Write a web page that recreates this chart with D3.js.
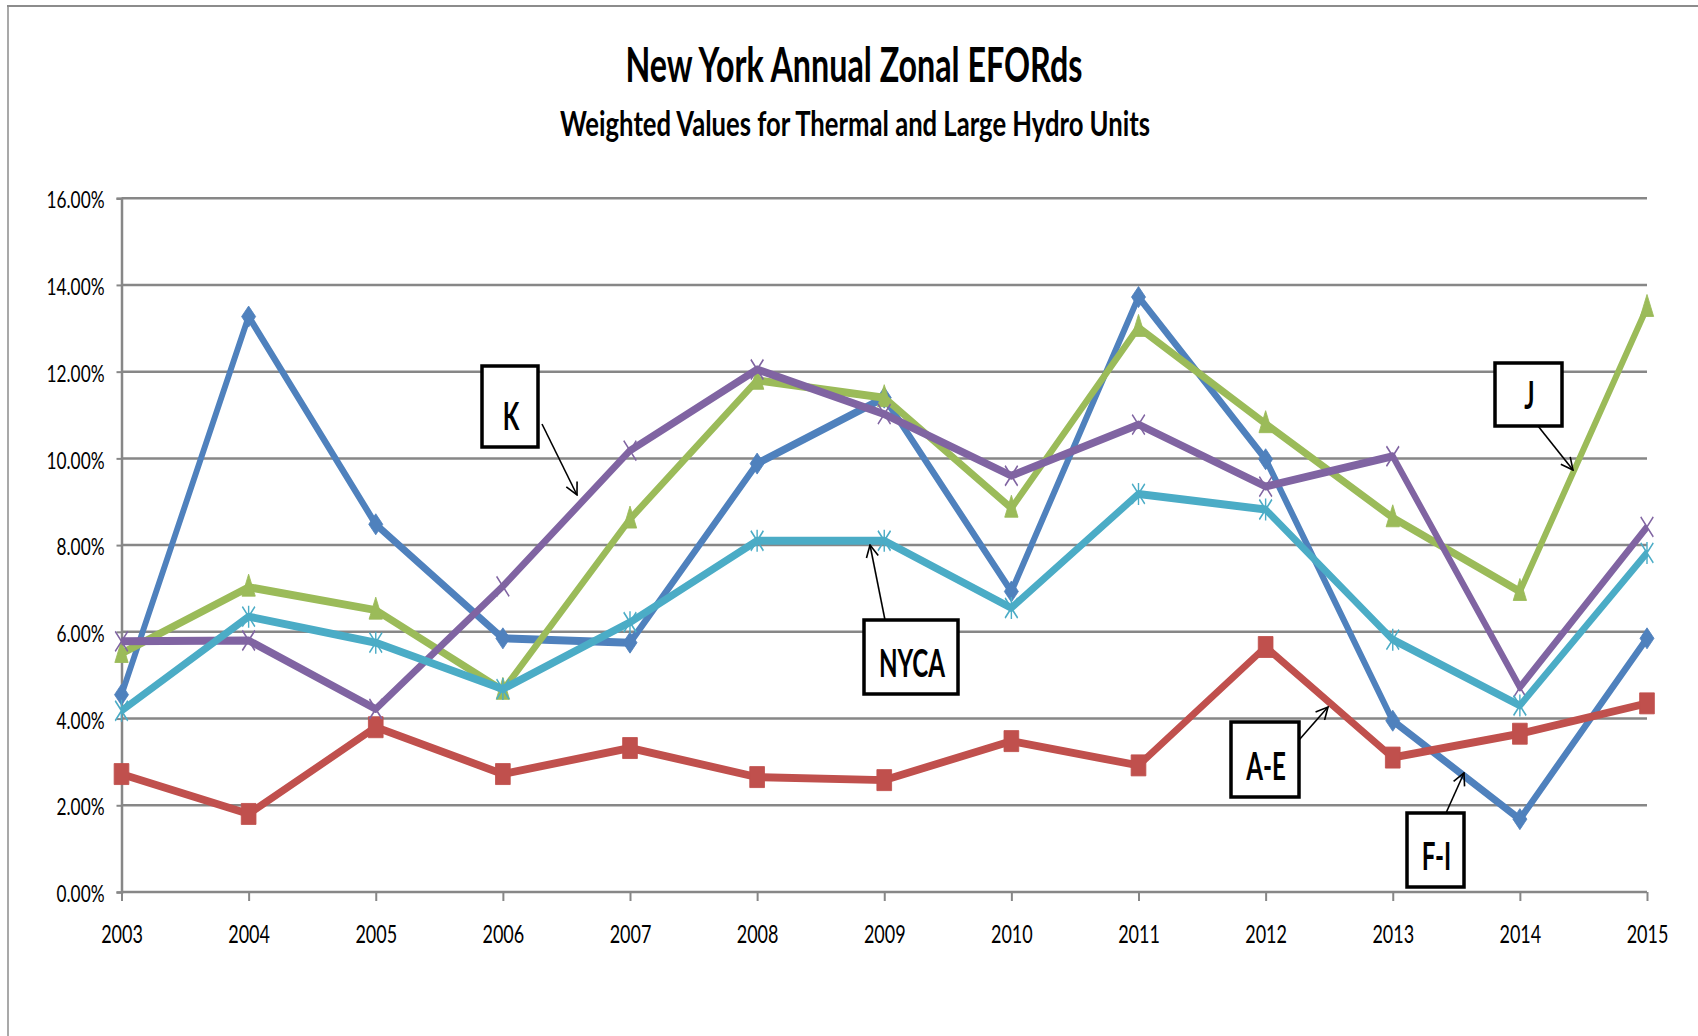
<!DOCTYPE html>
<html>
<head>
<meta charset="utf-8">
<script src="https://cdn.jsdelivr.net/npm/d3@7"></script>
<style>
    body { margin: 0; background: #fff; }
    text { font-family: Lato, "Open Sans", sans-serif; fill: #000; }
</style>
</head>
<body>
<div id="chart"></div>
<script>
// data (EFORd, %)
const years = [2003, 2004, 2005, 2006, 2007, 2008, 2009, 2010, 2011, 2012, 2013, 2014, 2015];
const zoneFI = [4.55, 13.27, 8.48, 5.85, 5.75, 9.88, 11.40, 6.93, 13.72, 9.98, 3.95, 1.68, 5.85];
const zoneAE = [2.72, 1.80, 3.80, 2.72, 3.32, 2.65, 2.58, 3.48, 2.92, 5.65, 3.10, 3.65, 4.35];
const zoneJ  = [5.50, 7.03, 6.50, 4.65, 8.60, 11.80, 11.40, 8.85, 13.02, 10.80, 8.63, 6.93, 13.48];
const zoneK  = [5.78, 5.80, 4.22, 7.05, 10.18, 12.05, 11.02, 9.60, 10.78, 9.35, 10.05, 4.72, 8.42];
const nyca   = [4.18, 6.35, 5.75, 4.68, 6.22, 8.10, 8.10, 6.55, 9.18, 8.82, 5.82, 4.30, 7.82];
const yTicks = [0, 2, 4, 6, 8, 10, 12, 14, 16];

const title = "New York Annual Zonal EFORds";
const subtitle = "Weighted Values for Thermal and Large Hydro Units";

let width = 1698;
let height = 1036;

let plotLeft = 121.5;
let plotRight = 1647;
let plotTop = 198.2;
let plotBottom = 892;

// the original picture is squeezed sideways, lines and markers too
let sx = 0.7;
let textSx = 0.72;

let svg = d3.select("#chart")
    .append("svg")
    .attr("width", width)
    .attr("height", height);

svg.append("rect")
    .attr("width", width)
    .attr("height", height)
    .attr("fill", "#fff");

// outer frame
svg.append("line")
    .attr("x1", 7).attr("x2", width).attr("y1", 6).attr("y2", 6)
    .attr("stroke", "#8c8c8c").attr("stroke-width", 2);
svg.append("line")
    .attr("x1", 8).attr("x2", 8).attr("y1", 6).attr("y2", height)
    .attr("stroke", "#8c8c8c").attr("stroke-width", 1.5);

// titles
svg.append("text")
    .attr("x", 854).attr("y", 82)
    .attr("text-anchor", "middle")
    .style("font-size", "48px").style("font-weight", "bold")
    .attr("textLength", 457).attr("lengthAdjust", "spacingAndGlyphs")
    .text(title);

svg.append("text")
    .attr("x", 855).attr("y", 136)
    .attr("text-anchor", "middle")
    .style("font-size", "35px").style("font-weight", "bold")
    .attr("textLength", 590).attr("lengthAdjust", "spacingAndGlyphs")
    .text(subtitle);

let x = d3.scalePoint().domain(years).range([plotLeft, plotRight]);
let xv = d3.scalePoint().domain(years).range([plotLeft / sx, plotRight / sx]);
let y = d3.scaleLinear().domain([0, 16]).range([plotBottom, plotTop]);

// gridlines
svg.append("g")
    .selectAll("line")
    .data(yTicks)
    .enter().append("line")
    .attr("x1", plotLeft).attr("x2", plotRight)
    .attr("y1", d => y(d)).attr("y2", d => y(d))
    .attr("stroke", "#878787").attr("stroke-width", 2.5);

// y axis
let yAxis = svg.append("g")
    .attr("transform", `translate(${plotLeft}, 0)`)
    .call(d3.axisLeft(y).tickValues(yTicks).tickSize(5).tickFormat(d => d3.format(".2f")(d) + "%"));
yAxis.select(".domain").attr("stroke", "#878787").attr("stroke-width", 2.5);
yAxis.selectAll(".tick line").attr("stroke", "#878787").attr("stroke-width", 2);
yAxis.selectAll(".tick text")
    .attr("x", null).attr("dy", "0.36em")
    .attr("transform", `translate(-17, 1) scale(${textSx}, 1)`)
    .attr("text-anchor", "end")
    .style("font-size", "24px").style("font-family", "Lato, sans-serif").attr("fill", "#000");

// x axis
let xAxis = svg.append("g")
    .attr("transform", `translate(0, ${plotBottom})`)
    .call(d3.axisBottom(x).tickSize(9));
xAxis.select(".domain").remove();
xAxis.selectAll(".tick line").attr("stroke", "#878787").attr("stroke-width", 2);
xAxis.selectAll(".tick text")
    .attr("y", 0).attr("dy", 0)
    .attr("transform", `translate(0, 51) scale(${textSx}, 1)`)
    .attr("text-anchor", "middle")
    .style("font-size", "25px").style("font-family", "Lato, sans-serif").attr("fill", "#000");

// series
const series = [
    { values: zoneFI, color: "#4F81BD", marker: "M0,-10.5L10,0L0,10.5L-10,0Z", filled: true },
    { values: zoneAE, color: "#C0504D", marker: "M-10.5,-10.5h21v21h-21Z", filled: true },
    { values: zoneJ,  color: "#9BBB59", marker: "M0,-13L9.5,9L-9.5,9Z", filled: true },
    { values: zoneK,  color: "#8064A2", marker: "M-9,-10L9,10M-9,10L9,-10", filled: false },
    { values: nyca,   color: "#4BACC6", marker: "M-9,-10L9,10M-9,10L9,-10M0,-11V11", filled: false }
];

let plot = svg.append("g")
    .attr("transform", `scale(${sx}, 1)`);

let line = d3.line()
    .x(function(d, i) { return xv(years[i]); })
    .y(function(d) { return y(d); });

series.forEach(function(s) {
    let g = plot.append("g");

    g.append("path")
        .datum(s.values)
        .attr("fill", "none")
        .attr("stroke", s.color)
        .attr("stroke-width", 8)
        .attr("stroke-linejoin", "round")
        .attr("d", line);

    g.selectAll(".mk")
        .data(s.values)
        .enter().append("path")
        .attr("transform", function(d, i) { return `translate(${xv(years[i])}, ${y(d)})`; })
        .attr("d", s.marker)
        .attr("fill", s.filled ? s.color : "none")
        .attr("stroke", s.color)
        .attr("stroke-width", s.filled ? 1 : 2);
});

// callout boxes with arrows
svg.append("defs").append("marker")
    .attr("id", "arr")
    .attr("viewBox", "0 0 14 14")
    .attr("refX", 13).attr("refY", 7)
    .attr("markerWidth", 14).attr("markerHeight", 14)
    .attr("markerUnits", "userSpaceOnUse")
    .attr("orient", "auto")
    .append("path")
    .attr("d", "M1,1L13,7L1,13")
    .attr("fill", "none").attr("stroke", "#000").attr("stroke-width", 1.6);

const callouts = [
    { label: "K",    box: [482, 366, 56, 81], from: [542, 424], to: [577, 495] },
    { label: "NYCA", box: [864, 620, 94, 74], from: [885, 620], to: [870, 545] },
    { label: "J",    box: [1495, 363, 67, 63], from: [1538, 426], to: [1573, 470] },
    { label: "A-E",  box: [1231, 722, 68, 75], from: [1299, 740], to: [1328, 707] },
    { label: "F-I",  box: [1407, 813, 57, 74], from: [1446, 813], to: [1464, 773] }
];

callouts.forEach(function(c) {
    svg.append("line")
        .attr("x1", c.from[0]).attr("y1", c.from[1])
        .attr("x2", c.to[0]).attr("y2", c.to[1])
        .attr("stroke", "#000").attr("stroke-width", 1.6)
        .attr("marker-end", "url(#arr)");

    svg.append("rect")
        .attr("x", c.box[0]).attr("y", c.box[1])
        .attr("width", c.box[2]).attr("height", c.box[3])
        .attr("fill", "#fff")
        .attr("stroke", "#000").attr("stroke-width", 3.5);

    svg.append("text")
        .attr("transform", `translate(${c.box[0] + c.box[2] / 2 + 1}, ${c.box[1] + c.box[3] - 17}) scale(0.62, 1)`)
        .attr("text-anchor", "middle")
        .style("font-size", "39px").style("font-weight", "bold")
        .text(c.label);
});
</script>
</body>
</html>
